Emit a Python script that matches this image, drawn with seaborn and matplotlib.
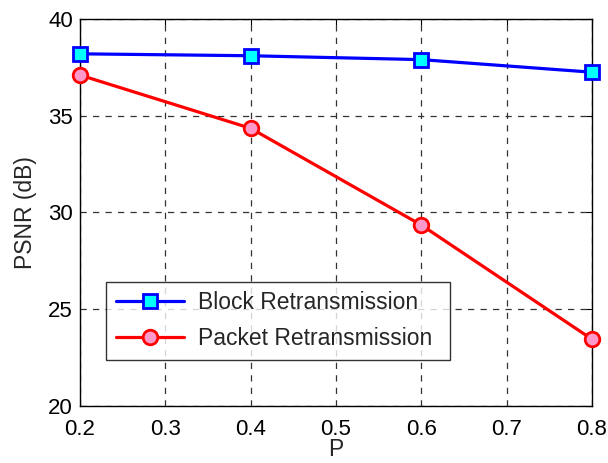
import matplotlib
matplotlib.use("Agg")
import matplotlib.pyplot as plt
import seaborn as sns
import pandas as pd

p_values = [0.2, 0.4, 0.6, 0.8]
block_psnr = [38.2, 38.1, 37.9, 37.25]
packet_psnr = [37.1, 34.35, 29.35, 23.45]
series_names = ["Block Retransmission", "Packet Retransmission"]
x_ticks = [0.2, 0.3, 0.4, 0.5, 0.6, 0.7, 0.8]
y_ticks = [20, 25, 30, 35, 40]

sns.set_style("white")
plt.rcParams['font.family'] = ['Liberation Sans', 'DejaVu Sans']

fig = plt.figure(figsize=(6.08, 4.63), dpi=100)
ax = fig.add_axes([0.1316, 0.1231, 0.8421, 0.8359])

df_b = pd.DataFrame({"P": p_values, "PSNR": block_psnr})
df_p = pd.DataFrame({"P": p_values, "PSNR": packet_psnr})

sns.lineplot(data=df_b, x="P", y="PSNR", ax=ax, color="#0000FF", linewidth=2.3,
             marker="s", markersize=10.5, markerfacecolor="#00FFFF",
             markeredgecolor="#0000FF", markeredgewidth=2, label=series_names[0],
             clip_on=False, zorder=5)
sns.lineplot(data=df_p, x="P", y="PSNR", ax=ax, color="#FF0000", linewidth=2.3,
             marker="o", markersize=10.5, markerfacecolor="#FF99CC",
             markeredgecolor="#FF0000", markeredgewidth=2, label=series_names[1],
             clip_on=False, zorder=5)

ax.set_xlim(0.2, 0.8)
ax.set_ylim(20, 40)
ax.set_xticks(x_ticks)
ax.set_yticks(y_ticks)
ax.set_xticklabels([f"{t:.1f}" for t in x_ticks])
ax.set_yticklabels([str(t) for t in y_ticks])
ax.grid(True, linestyle=(0, (5, 5)), color="#333333", linewidth=0.9)
ax.tick_params(direction="in", length=4, width=0.8, colors="black",
               labelsize=16, top=True, right=True)
ax.tick_params(axis="x", pad=9)
ax.tick_params(axis="y", pad=5)
for s in ax.spines.values():
    s.set_visible(True)
    s.set_color("black")
    s.set_linewidth(1.0)
ax.set_xlabel("P", fontsize=16.5, labelpad=-1)
ax.set_ylabel("PSNR (dB)", fontsize=16.5, labelpad=8)

leg = ax.legend(loc="lower left", bbox_to_anchor=(0.051, 0.119, 0.672, 0.199),
                mode="expand", fontsize=16.5,
                frameon=True, fancybox=False, edgecolor="black",
                handlelength=3.0, borderpad=0.42, labelspacing=0.56,
                handletextpad=0.6, borderaxespad=0)
leg.get_frame().set_linewidth(1.0)

fig.savefig("out.png", dpi=100)
